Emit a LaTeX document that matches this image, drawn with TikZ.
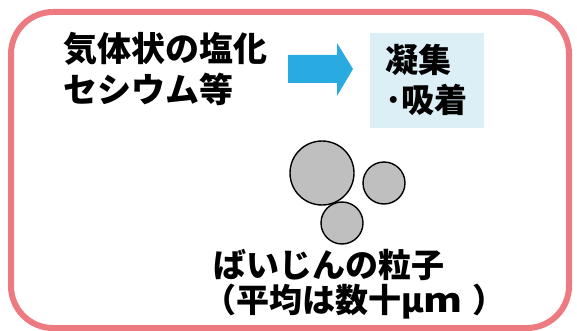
\documentclass[tikz,border=0pt]{standalone}
\usepackage{fontspec}
\newfontfamily\jp{Noto Sans CJK JP Black}
\begin{document}
\begin{tikzpicture}[x=1pt,y=-1pt,
  lbl/.style={font=\jp\fontsize{34}{41}\selectfont, align=left, inner sep=0pt, anchor=north west},
  particle/.style={circle, draw=black, line width=1.4pt, fill=gray!50, inner sep=0pt}]
\definecolor{frame}{HTML}{EC7A80}
\definecolor{arrowblue}{HTML}{29ABE2}
\definecolor{boxblue}{HTML}{DDEFF6}
\useasboundingbox (0,0) rectangle (577,331);
\draw[frame, line width=6pt, rounded corners=42pt] (11,12) rectangle (569,328);
\node[lbl] (gas) at (63,32) {気体状の塩化\\セシウム等};
\fill[arrowblue] (288,55) -- (337,55) -- (337,43) -- (353,69) -- (337,96) -- (337,83) -- (288,83) -- cycle;
\node[fill=boxblue, minimum width=114pt, minimum height=95pt, anchor=north west, inner sep=0pt] (box) at (370,33) {};
\node[lbl, font=\jp\fontsize{33}{40}\selectfont] (cond) at (385,44) {凝集\\･吸着};
\node[particle, minimum size=64pt] (p1) at (322,173) {};
\node[particle, minimum size=42pt] (p2) at (384,183) {};
\node[particle, minimum size=42pt] (p3) at (342,223) {};
\node[lbl, font=\jp\fontsize{33}{35}\selectfont] (dust) at (213,249.5) {ばいじんの粒子\\\hspace*{-0.3em}（平均は数十μ{\addfontfeature{FakeStretch=1.2}m}\hspace{0.3em}）};
\end{tikzpicture}
\end{document}
